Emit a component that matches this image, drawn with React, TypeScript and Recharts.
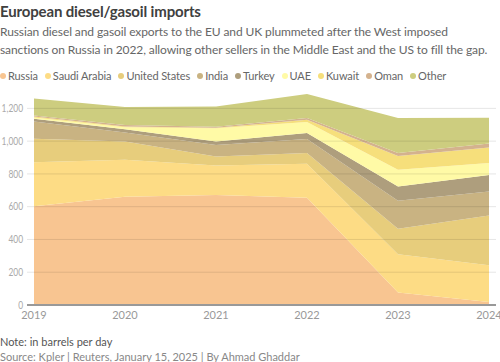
import { AreaChart, Area, XAxis, YAxis, ReferenceLine } from 'recharts';

const years = ['2019', '2020', '2021', '2022', '2023', '2024'];

// thousand-ish barrels per day
const russia = [602, 661, 672, 655, 76, 18];
const saudiArabia = [270, 225, 180, 207, 233, 225];
const unitedStates = [143, 112, 54, 65, 156, 303];
const india = [105, 55, 70, 86, 172, 146];
const turkey = [17, 20, 22, 37, 86, 102];
const uae = [8, 12, 80, 67, 102, 72];
const kuwait = [5, 5, 4, 14, 85, 96];
const oman = [7, 8, 6, 10, 17, 24];
const other = [103, 110, 124, 147, 214, 157];

const yTicks = [0, 200, 400, 600, 800, 1000, 1200];

const SERIES = [
  { key: 'russia', name: 'Russia', color: '#f8c591', values: russia },
  { key: 'saudi', name: 'Saudi Arabia', color: '#fddc85', values: saudiArabia },
  { key: 'us', name: 'United States', color: '#e7cd7c', values: unitedStates },
  { key: 'india', name: 'India', color: '#c9b382', values: india },
  { key: 'turkey', name: 'Turkey', color: '#ae9e7d', values: turkey },
  { key: 'uae', name: 'UAE', color: '#fffaa6', values: uae },
  { key: 'kuwait', name: 'Kuwait', color: '#f6df7b', values: kuwait },
  { key: 'oman', name: 'Oman', color: '#d4b28e', values: oman },
  { key: 'other', name: 'Other', color: '#cdcd7f', values: other },
];

const data = years.map((year, i) => {
  const row: Record<string, string | number> = { year };
  SERIES.forEach((s) => {
    row[s.key] = s.values[i];
  });
  return row;
});

const FONT = 'Lato, "Open Sans", sans-serif';

// the original uses a narrow face for the value labels, so squeeze Lato a bit
function YTick({ x, y, payload }: any) {
  return (
    <text
      transform={`translate(${x},${y}) scale(0.8,1)`}
      textAnchor="end"
      dy="0.36em"
      fontSize={10.5}
      fontFamily={FONT}
      fill="#aaa"
    >
      {Number(payload.value).toLocaleString('en-US')}
    </text>
  );
}

export default function App() {
  return (
    <div style={{ position: 'relative', width: 500, height: 362, fontFamily: FONT, background: '#fff' }}>
      <style>{'body{margin:0}'}</style>
      <div style={{ position: 'absolute', left: 0, top: 2, fontSize: 15, letterSpacing: -0.15, fontWeight: 700, color: '#404040', whiteSpace: 'nowrap' }}>
        European diesel/gasoil imports
      </div>
      <div style={{ position: 'absolute', left: 0, top: 23, width: 500, fontSize: 12, letterSpacing: -0.1, lineHeight: '18px', color: '#666', whiteSpace: 'nowrap' }}>
        Russian diesel and gasoil exports to the EU and UK plummeted after the West imposed
        <br />
        sanctions on Russia in 2022, allowing other sellers in the Middle East and the US to fill the gap.
      </div>
      <div style={{ position: 'absolute', left: 0, top: 69, display: 'flex', fontSize: 11, letterSpacing: -0.1, color: '#666', whiteSpace: 'nowrap' }}>
        {SERIES.map((s) => (
          <span key={s.key} style={{ display: 'flex', alignItems: 'center', marginRight: 7 }}>
            <span style={{ width: 6, height: 6, borderRadius: 3, background: s.color, marginRight: 2 }} />
            {s.name}
          </span>
        ))}
      </div>
      <div style={{ position: 'absolute', left: 0, top: 86 }}>
        <AreaChart width={500} height={240} data={data} margin={{ top: 6, right: 4, bottom: 0, left: 0 }}>
          <XAxis
            dataKey="year"
            padding={{ left: 7, right: 7 }}
            axisLine={false}
            tickLine={false}
            tickSize={0}
            tickMargin={6}
            height={21}
            interval={0}
            tick={{ fill: '#999', fontSize: 11, fontFamily: FONT }}
          />
          <YAxis
            domain={[0, 1300]}
            ticks={yTicks}
            width={27}
            axisLine={false}
            tickLine={false}
            tickSize={0}
            tickMargin={4}
            tick={<YTick />}
          />
          {SERIES.map((s) => (
            <Area
              key={s.key}
              type="linear"
              dataKey={s.key}
              name={s.name}
              stackId="a"
              stroke="none"
              fill={s.color}
              fillOpacity={1}
              isAnimationActive={false}
            />
          ))}
          {yTicks.slice(1).map((t) => (
            <ReferenceLine key={t} y={t} stroke="rgba(0,0,0,0.1)" strokeWidth={1} />
          ))}
          <ReferenceLine y={0} stroke="#999" strokeWidth={2} />
        </AreaChart>
      </div>
      <div style={{ position: 'absolute', left: 0, top: 335, fontSize: 11, lineHeight: '13px', color: '#555' }}>
        Note: in barrels per day
      </div>
      <div style={{ position: 'absolute', left: 0, top: 350, fontSize: 11, lineHeight: '13px', color: '#888', whiteSpace: 'nowrap' }}>
        Source: Kpler | Reuters, January 15, 2025 | By Ahmad Ghaddar
      </div>
    </div>
  );
}
